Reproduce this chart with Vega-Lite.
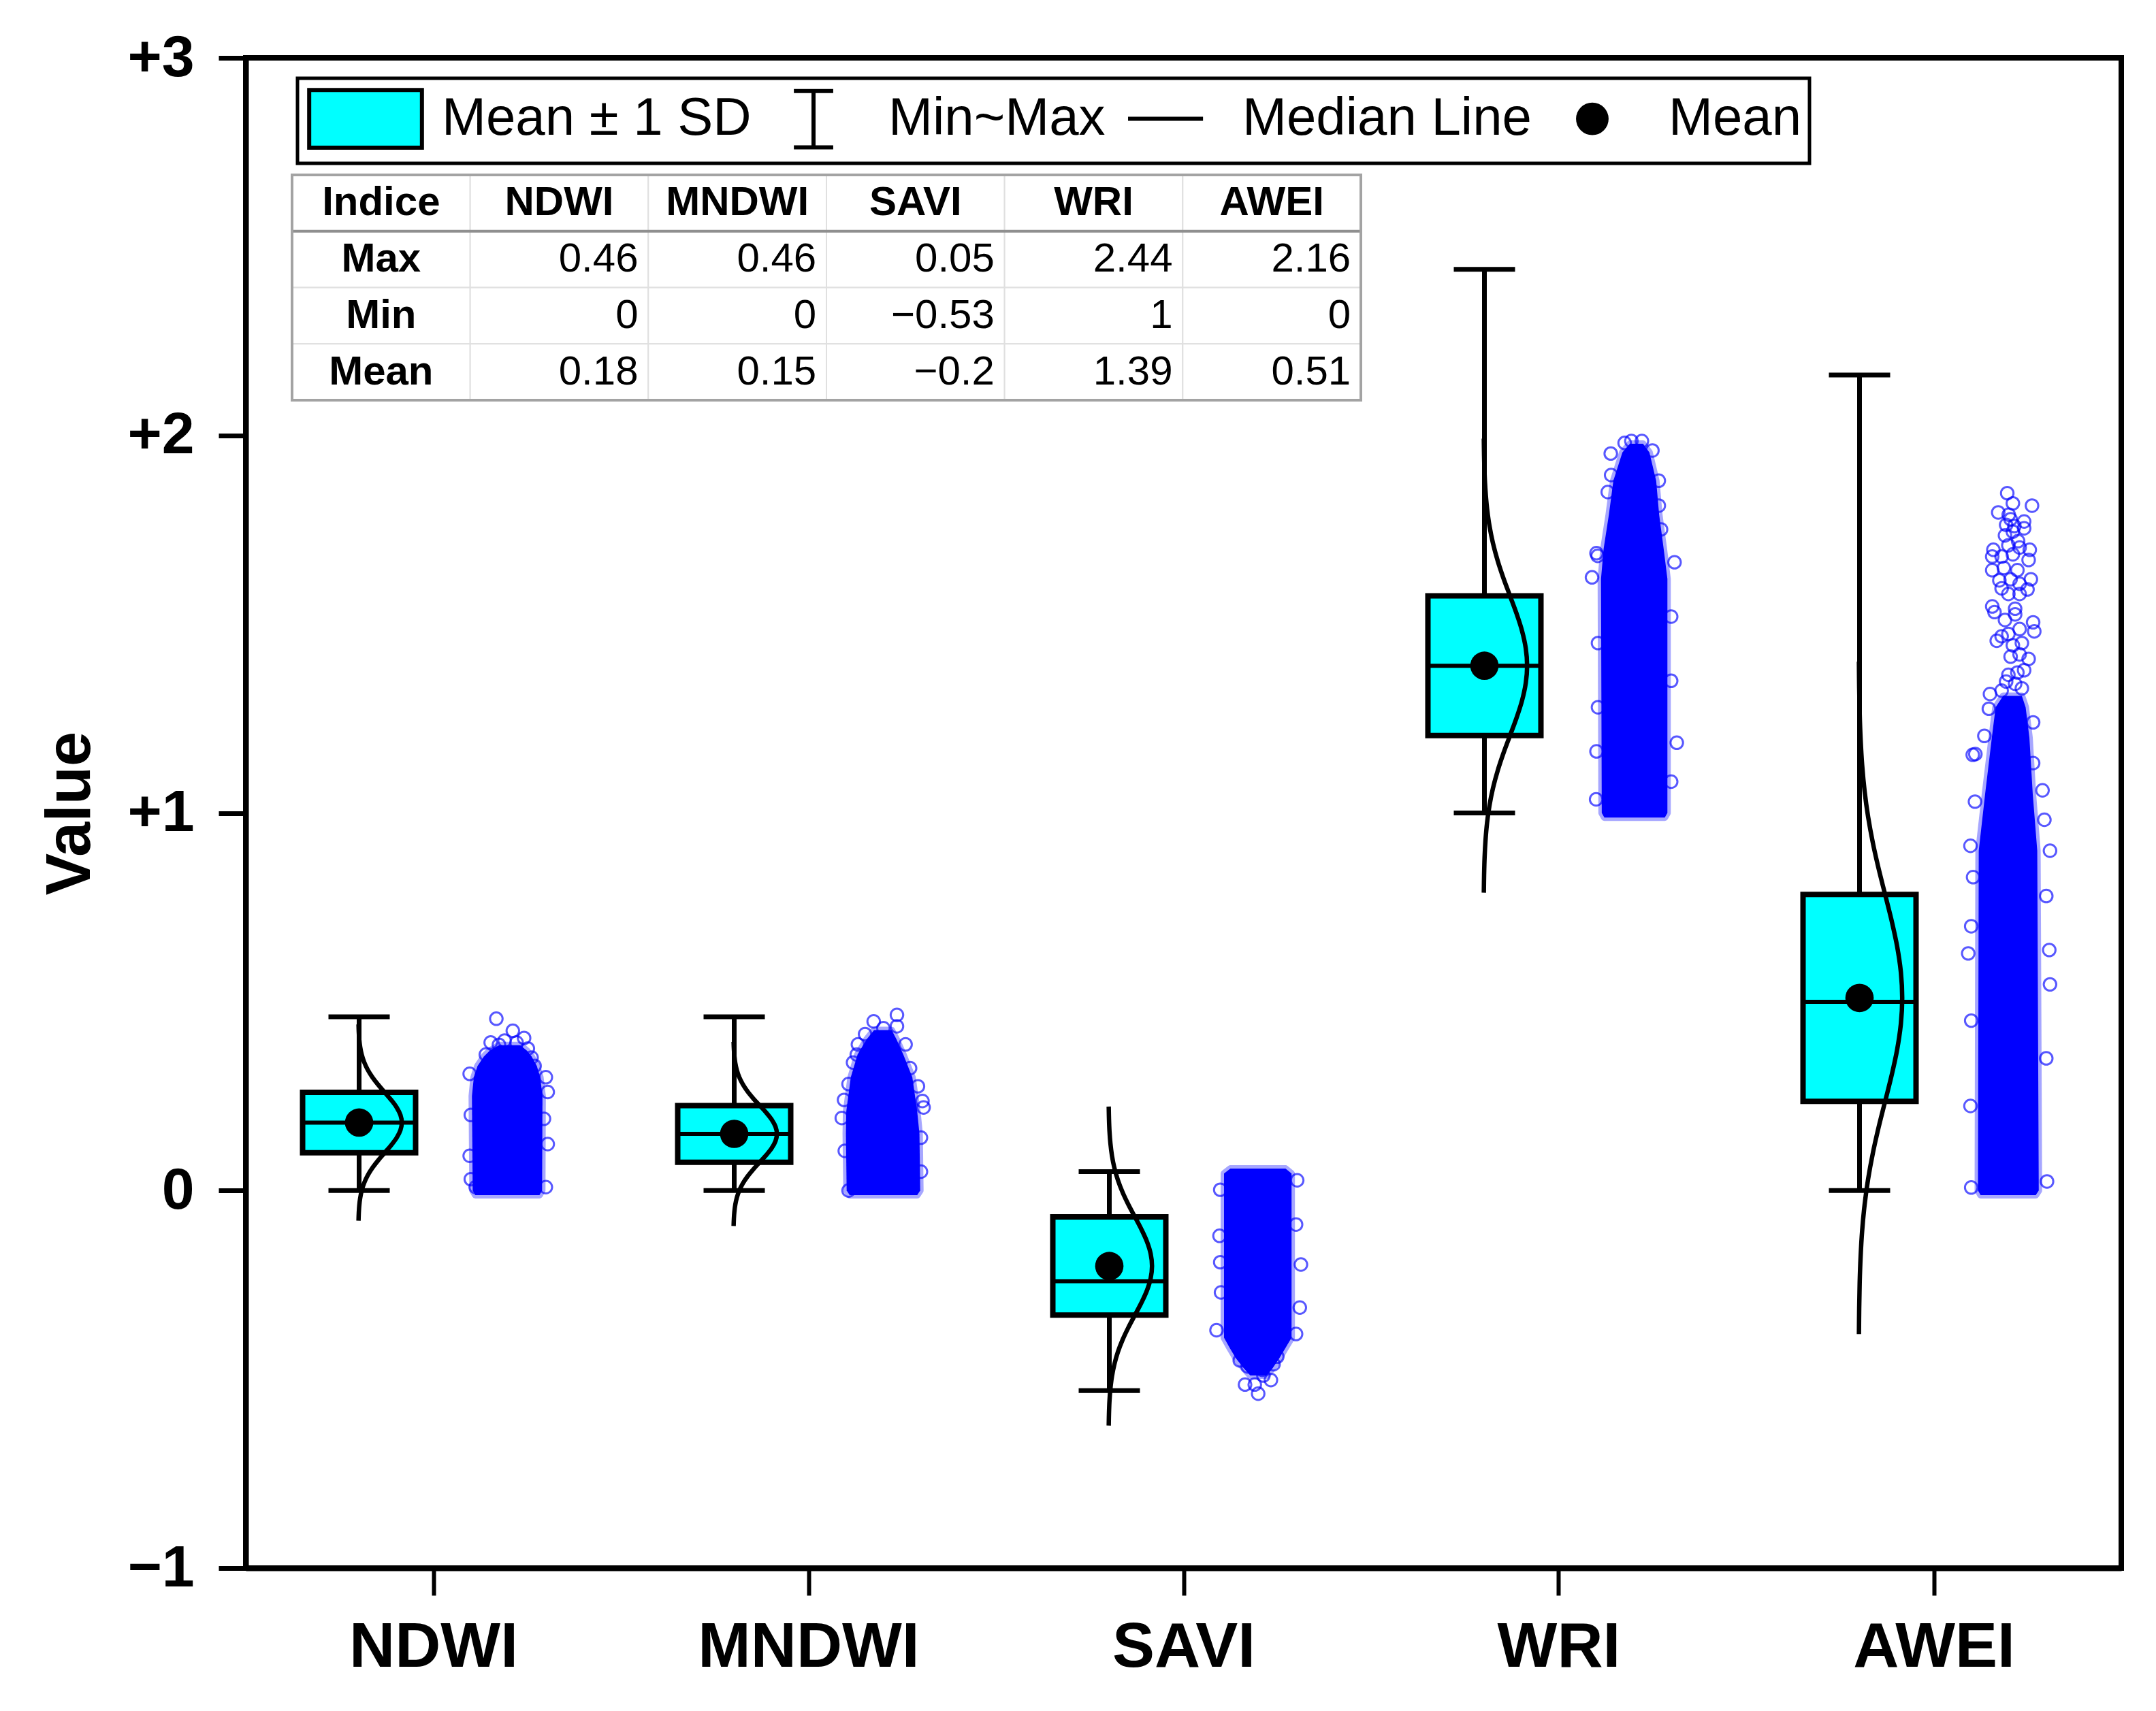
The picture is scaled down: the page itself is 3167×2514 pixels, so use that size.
{
  "$schema": "https://vega.github.io/schema/vega-lite/v6.json",
  "width": 2755,
  "height": 2219,
  "autosize": {"type": "none"},
  "padding": {"left": 361, "top": 85, "right": 51, "bottom": 210},
  "background": "white",
  "config": {
    "view": {"stroke": "black", "strokeWidth": 8},
    "font": "Liberation Sans",
    "legend": {"strokeWidth": 5}
  },
  "datasets": {
    "stats": [
      {"k": "NDWI", "pos": 1, "mean": 0.18, "lo": 0.10, "hi": 0.26, "median": 0.18, "min": 0, "max": 0.46},
      {"k": "MNDWI", "pos": 2, "mean": 0.15, "lo": 0.075, "hi": 0.225, "median": 0.15, "min": 0, "max": 0.46},
      {"k": "SAVI", "pos": 3, "mean": -0.2, "lo": -0.33, "hi": -0.07, "median": -0.24, "min": -0.53, "max": 0.05},
      {"k": "WRI", "pos": 4, "mean": 1.39, "lo": 1.205, "hi": 1.575, "median": 1.39, "min": 1, "max": 2.44},
      {"k": "AWEI", "pos": 5, "mean": 0.51, "lo": 0.236, "hi": 0.784, "median": 0.50, "min": 0, "max": 2.16}
    ],
    "curve": [
      {"k": "NDWI", "x": 0.8006, "y": -0.08}, {"k": "NDWI", "x": 0.8013, "y": -0.06}, {"k": "NDWI", "x": 0.8026, "y": -0.04},
      {"k": "NDWI", "x": 0.8051, "y": -0.02}, {"k": "NDWI", "x": 0.8092, "y": 0.0}, {"k": "NDWI", "x": 0.8157, "y": 0.02},
      {"k": "NDWI", "x": 0.8251, "y": 0.04}, {"k": "NDWI", "x": 0.8377, "y": 0.06}, {"k": "NDWI", "x": 0.8531, "y": 0.08},
      {"k": "NDWI", "x": 0.8704, "y": 0.10}, {"k": "NDWI", "x": 0.8876, "y": 0.12}, {"k": "NDWI", "x": 0.9024, "y": 0.14},
      {"k": "NDWI", "x": 0.9124, "y": 0.16}, {"k": "NDWI", "x": 0.916, "y": 0.18}, {"k": "NDWI", "x": 0.9124, "y": 0.20},
      {"k": "NDWI", "x": 0.9024, "y": 0.22}, {"k": "NDWI", "x": 0.8876, "y": 0.24}, {"k": "NDWI", "x": 0.8704, "y": 0.26},
      {"k": "NDWI", "x": 0.8531, "y": 0.28}, {"k": "NDWI", "x": 0.8377, "y": 0.30}, {"k": "NDWI", "x": 0.8251, "y": 0.32},
      {"k": "NDWI", "x": 0.8157, "y": 0.34}, {"k": "NDWI", "x": 0.8092, "y": 0.36}, {"k": "NDWI", "x": 0.8051, "y": 0.38},
      {"k": "NDWI", "x": 0.8026, "y": 0.40}, {"k": "NDWI", "x": 0.8013, "y": 0.42}, {"k": "NDWI", "x": 0.8006, "y": 0.44},

      {"k": "MNDWI", "x": 1.8006, "y": -0.0938}, {"k": "MNDWI", "x": 1.8013, "y": -0.075}, {"k": "MNDWI", "x": 1.8026, "y": -0.0563},
      {"k": "MNDWI", "x": 1.8051, "y": -0.0375}, {"k": "MNDWI", "x": 1.8092, "y": -0.0188}, {"k": "MNDWI", "x": 1.8157, "y": 0.0},
      {"k": "MNDWI", "x": 1.8251, "y": 0.0188}, {"k": "MNDWI", "x": 1.8377, "y": 0.0375}, {"k": "MNDWI", "x": 1.8531, "y": 0.0563},
      {"k": "MNDWI", "x": 1.8704, "y": 0.075}, {"k": "MNDWI", "x": 1.8876, "y": 0.0938}, {"k": "MNDWI", "x": 1.9024, "y": 0.1125},
      {"k": "MNDWI", "x": 1.9124, "y": 0.1313}, {"k": "MNDWI", "x": 1.916, "y": 0.15}, {"k": "MNDWI", "x": 1.9124, "y": 0.1688},
      {"k": "MNDWI", "x": 1.9024, "y": 0.1875}, {"k": "MNDWI", "x": 1.8876, "y": 0.2063}, {"k": "MNDWI", "x": 1.8704, "y": 0.225},
      {"k": "MNDWI", "x": 1.8531, "y": 0.2438}, {"k": "MNDWI", "x": 1.8377, "y": 0.2625}, {"k": "MNDWI", "x": 1.8251, "y": 0.2813},
      {"k": "MNDWI", "x": 1.8157, "y": 0.3}, {"k": "MNDWI", "x": 1.8092, "y": 0.3188}, {"k": "MNDWI", "x": 1.8051, "y": 0.3375},
      {"k": "MNDWI", "x": 1.8026, "y": 0.3563}, {"k": "MNDWI", "x": 1.8013, "y": 0.375}, {"k": "MNDWI", "x": 1.8006, "y": 0.3938},

      {"k": "SAVI", "x": 2.8006, "y": -0.6225}, {"k": "SAVI", "x": 2.8013, "y": -0.59}, {"k": "SAVI", "x": 2.8026, "y": -0.5575},
      {"k": "SAVI", "x": 2.8051, "y": -0.525}, {"k": "SAVI", "x": 2.8092, "y": -0.4925}, {"k": "SAVI", "x": 2.8157, "y": -0.46},
      {"k": "SAVI", "x": 2.8251, "y": -0.4275}, {"k": "SAVI", "x": 2.8377, "y": -0.395}, {"k": "SAVI", "x": 2.8531, "y": -0.3625},
      {"k": "SAVI", "x": 2.8704, "y": -0.33}, {"k": "SAVI", "x": 2.8876, "y": -0.2975}, {"k": "SAVI", "x": 2.9024, "y": -0.265},
      {"k": "SAVI", "x": 2.9124, "y": -0.2325}, {"k": "SAVI", "x": 2.916, "y": -0.2}, {"k": "SAVI", "x": 2.9124, "y": -0.1675},
      {"k": "SAVI", "x": 2.9024, "y": -0.135}, {"k": "SAVI", "x": 2.8876, "y": -0.1025}, {"k": "SAVI", "x": 2.8704, "y": -0.07},
      {"k": "SAVI", "x": 2.8531, "y": -0.0375}, {"k": "SAVI", "x": 2.8377, "y": -0.005}, {"k": "SAVI", "x": 2.8251, "y": 0.0275},
      {"k": "SAVI", "x": 2.8157, "y": 0.06}, {"k": "SAVI", "x": 2.8092, "y": 0.0925}, {"k": "SAVI", "x": 2.8051, "y": 0.125},
      {"k": "SAVI", "x": 2.8026, "y": 0.1575}, {"k": "SAVI", "x": 2.8013, "y": 0.19}, {"k": "SAVI", "x": 2.8006, "y": 0.2225},

      {"k": "WRI", "x": 3.8006, "y": 0.7888}, {"k": "WRI", "x": 3.8013, "y": 0.835}, {"k": "WRI", "x": 3.8026, "y": 0.8813},
      {"k": "WRI", "x": 3.8051, "y": 0.9275}, {"k": "WRI", "x": 3.8092, "y": 0.9738}, {"k": "WRI", "x": 3.8157, "y": 1.02},
      {"k": "WRI", "x": 3.8251, "y": 1.0663}, {"k": "WRI", "x": 3.8377, "y": 1.1125}, {"k": "WRI", "x": 3.8531, "y": 1.1588},
      {"k": "WRI", "x": 3.8704, "y": 1.205}, {"k": "WRI", "x": 3.8876, "y": 1.2513}, {"k": "WRI", "x": 3.9024, "y": 1.2975},
      {"k": "WRI", "x": 3.9124, "y": 1.3438}, {"k": "WRI", "x": 3.916, "y": 1.39}, {"k": "WRI", "x": 3.9124, "y": 1.4363},
      {"k": "WRI", "x": 3.9024, "y": 1.4825}, {"k": "WRI", "x": 3.8876, "y": 1.5288}, {"k": "WRI", "x": 3.8704, "y": 1.575},
      {"k": "WRI", "x": 3.8531, "y": 1.6213}, {"k": "WRI", "x": 3.8377, "y": 1.6675}, {"k": "WRI", "x": 3.8251, "y": 1.7138},
      {"k": "WRI", "x": 3.8157, "y": 1.76}, {"k": "WRI", "x": 3.8092, "y": 1.8063}, {"k": "WRI", "x": 3.8051, "y": 1.8525},
      {"k": "WRI", "x": 3.8026, "y": 1.8988}, {"k": "WRI", "x": 3.8013, "y": 1.945}, {"k": "WRI", "x": 3.8006, "y": 1.9913},

      {"k": "AWEI", "x": 4.8006, "y": -0.3805}, {"k": "AWEI", "x": 4.8013, "y": -0.312}, {"k": "AWEI", "x": 4.8026, "y": -0.2435},
      {"k": "AWEI", "x": 4.8051, "y": -0.175}, {"k": "AWEI", "x": 4.8092, "y": -0.1065}, {"k": "AWEI", "x": 4.8157, "y": -0.038},
      {"k": "AWEI", "x": 4.8251, "y": 0.0305}, {"k": "AWEI", "x": 4.8377, "y": 0.099}, {"k": "AWEI", "x": 4.8531, "y": 0.1675},
      {"k": "AWEI", "x": 4.8704, "y": 0.236}, {"k": "AWEI", "x": 4.8876, "y": 0.3045}, {"k": "AWEI", "x": 4.9024, "y": 0.373},
      {"k": "AWEI", "x": 4.9124, "y": 0.4415}, {"k": "AWEI", "x": 4.916, "y": 0.51}, {"k": "AWEI", "x": 4.9124, "y": 0.5785},
      {"k": "AWEI", "x": 4.9024, "y": 0.647}, {"k": "AWEI", "x": 4.8876, "y": 0.7155}, {"k": "AWEI", "x": 4.8704, "y": 0.784},
      {"k": "AWEI", "x": 4.8531, "y": 0.8525}, {"k": "AWEI", "x": 4.8377, "y": 0.921}, {"k": "AWEI", "x": 4.8251, "y": 0.9895},
      {"k": "AWEI", "x": 4.8157, "y": 1.058}, {"k": "AWEI", "x": 4.8092, "y": 1.1265}, {"k": "AWEI", "x": 4.8051, "y": 1.195},
      {"k": "AWEI", "x": 4.8026, "y": 1.2635}, {"k": "AWEI", "x": 4.8013, "y": 1.332}, {"k": "AWEI", "x": 4.8006, "y": 1.4005}
    ],
    "cloud": [
      {"k": "NDWI", "y": -0.012, "x0": 1.112, "x1": 1.283}, {"k": "NDWI", "y": 0.0, "x0": 1.105, "x1": 1.29},
      {"k": "NDWI", "y": 0.25, "x0": 1.103, "x1": 1.291}, {"k": "NDWI", "y": 0.30, "x0": 1.108, "x1": 1.285},
      {"k": "NDWI", "y": 0.33, "x0": 1.118, "x1": 1.276}, {"k": "NDWI", "y": 0.355, "x0": 1.135, "x1": 1.262},
      {"k": "NDWI", "y": 0.37, "x0": 1.15, "x1": 1.25}, {"k": "NDWI", "y": 0.385, "x0": 1.175, "x1": 1.232},

      {"k": "MNDWI", "y": -0.012, "x0": 2.11, "x1": 2.29}, {"k": "MNDWI", "y": 0.0, "x0": 2.102, "x1": 2.298},
      {"k": "MNDWI", "y": 0.15, "x0": 2.10, "x1": 2.296}, {"k": "MNDWI", "y": 0.21, "x0": 2.101, "x1": 2.29},
      {"k": "MNDWI", "y": 0.30, "x0": 2.113, "x1": 2.277}, {"k": "MNDWI", "y": 0.36, "x0": 2.131, "x1": 2.253},
      {"k": "MNDWI", "y": 0.40, "x0": 2.155, "x1": 2.235}, {"k": "MNDWI", "y": 0.425, "x0": 2.175, "x1": 2.222},

      {"k": "SAVI", "y": -0.49, "x0": 3.178, "x1": 3.222}, {"k": "SAVI", "y": -0.47, "x0": 3.16, "x1": 3.238},
      {"k": "SAVI", "y": -0.445, "x0": 3.14, "x1": 3.255}, {"k": "SAVI", "y": -0.42, "x0": 3.125, "x1": 3.27},
      {"k": "SAVI", "y": -0.39, "x0": 3.108, "x1": 3.288}, {"k": "SAVI", "y": 0.045, "x0": 3.108, "x1": 3.288},
      {"k": "SAVI", "y": 0.058, "x0": 3.125, "x1": 3.272},

      {"k": "WRI", "y": 0.988, "x0": 4.122, "x1": 4.283}, {"k": "WRI", "y": 1.0, "x0": 4.115, "x1": 4.29},
      {"k": "WRI", "y": 1.62, "x0": 4.113, "x1": 4.29}, {"k": "WRI", "y": 1.70, "x0": 4.12, "x1": 4.28},
      {"k": "WRI", "y": 1.79, "x0": 4.134, "x1": 4.268}, {"k": "WRI", "y": 1.88, "x0": 4.146, "x1": 4.26},
      {"k": "WRI", "y": 1.955, "x0": 4.17, "x1": 4.242}, {"k": "WRI", "y": 1.978, "x0": 4.19, "x1": 4.225},

      {"k": "AWEI", "y": -0.012, "x0": 5.125, "x1": 5.272}, {"k": "AWEI", "y": 0.0, "x0": 5.118, "x1": 5.28},
      {"k": "AWEI", "y": 0.9, "x0": 5.12, "x1": 5.276}, {"k": "AWEI", "y": 1.05, "x0": 5.137, "x1": 5.264},
      {"k": "AWEI", "y": 1.2, "x0": 5.155, "x1": 5.255}, {"k": "AWEI", "y": 1.28, "x0": 5.165, "x1": 5.245},
      {"k": "AWEI", "y": 1.31, "x0": 5.185, "x1": 5.235}
    ],
    "pts": [
      {"k": "NDWI", "x": 1.168, "y": 0.455}, {"k": "NDWI", "x": 1.212, "y": 0.423}, {"k": "NDWI", "x": 1.242, "y": 0.404},
      {"k": "NDWI", "x": 1.153, "y": 0.392}, {"k": "NDWI", "x": 1.19, "y": 0.397}, {"k": "NDWI", "x": 1.222, "y": 0.392},
      {"k": "NDWI", "x": 1.175, "y": 0.386}, {"k": "NDWI", "x": 1.252, "y": 0.376}, {"k": "NDWI", "x": 1.262, "y": 0.352},
      {"k": "NDWI", "x": 1.097, "y": 0.309}, {"k": "NDWI", "x": 1.30, "y": 0.30}, {"k": "NDWI", "x": 1.305, "y": 0.261},
      {"k": "NDWI", "x": 1.305, "y": 0.123}, {"k": "NDWI", "x": 1.097, "y": 0.092}, {"k": "NDWI", "x": 1.113, "y": 0.009},
      {"k": "NDWI", "x": 1.30, "y": 0.009}, {"k": "NDWI", "x": 1.27, "y": 0.33}, {"k": "NDWI", "x": 1.14, "y": 0.36},
      {"k": "NDWI", "x": 1.10, "y": 0.2}, {"k": "NDWI", "x": 1.295, "y": 0.19}, {"k": "NDWI", "x": 1.10, "y": 0.03},

      {"k": "MNDWI", "x": 2.174, "y": 0.448}, {"k": "MNDWI", "x": 2.236, "y": 0.465}, {"k": "MNDWI", "x": 2.236, "y": 0.435},
      {"k": "MNDWI", "x": 2.151, "y": 0.414}, {"k": "MNDWI", "x": 2.259, "y": 0.387}, {"k": "MNDWI", "x": 2.132, "y": 0.387},
      {"k": "MNDWI", "x": 2.129, "y": 0.36}, {"k": "MNDWI", "x": 2.119, "y": 0.339}, {"k": "MNDWI", "x": 2.107, "y": 0.282},
      {"k": "MNDWI", "x": 2.271, "y": 0.324}, {"k": "MNDWI", "x": 2.292, "y": 0.276}, {"k": "MNDWI", "x": 2.304, "y": 0.237},
      {"k": "MNDWI", "x": 2.307, "y": 0.22}, {"k": "MNDWI", "x": 2.089, "y": 0.192}, {"k": "MNDWI", "x": 2.097, "y": 0.105},
      {"k": "MNDWI", "x": 2.107, "y": 0.0}, {"k": "MNDWI", "x": 2.30, "y": 0.05}, {"k": "MNDWI", "x": 2.2, "y": 0.43},
      {"k": "MNDWI", "x": 2.30, "y": 0.14}, {"k": "MNDWI", "x": 2.095, "y": 0.24},

      {"k": "SAVI", "x": 3.171, "y": -0.466}, {"k": "SAVI", "x": 3.24, "y": -0.46}, {"k": "SAVI", "x": 3.213, "y": -0.49},
      {"k": "SAVI", "x": 3.164, "y": -0.514}, {"k": "SAVI", "x": 3.233, "y": -0.502}, {"k": "SAVI", "x": 3.199, "y": -0.538},
      {"k": "SAVI", "x": 3.19, "y": -0.514}, {"k": "SAVI", "x": 3.21, "y": -0.475}, {"k": "SAVI", "x": 3.098, "y": 0.002},
      {"k": "SAVI", "x": 3.303, "y": 0.027}, {"k": "SAVI", "x": 3.098, "y": -0.19}, {"k": "SAVI", "x": 3.313, "y": -0.196},
      {"k": "SAVI", "x": 3.088, "y": -0.37}, {"k": "SAVI", "x": 3.31, "y": -0.31}, {"k": "SAVI", "x": 3.096, "y": -0.12},
      {"k": "SAVI", "x": 3.15, "y": -0.45}, {"k": "SAVI", "x": 3.25, "y": -0.44}, {"k": "SAVI", "x": 3.30, "y": -0.09},
      {"k": "SAVI", "x": 3.10, "y": -0.27}, {"k": "SAVI", "x": 3.30, "y": -0.38},

      {"k": "WRI", "x": 4.194, "y": 1.985}, {"k": "WRI", "x": 4.222, "y": 1.985}, {"k": "WRI", "x": 4.139, "y": 1.952},
      {"k": "WRI", "x": 4.14, "y": 1.895}, {"k": "WRI", "x": 4.131, "y": 1.85}, {"k": "WRI", "x": 4.267, "y": 1.88},
      {"k": "WRI", "x": 4.267, "y": 1.814}, {"k": "WRI", "x": 4.101, "y": 1.688}, {"k": "WRI", "x": 4.273, "y": 1.751},
      {"k": "WRI", "x": 4.104, "y": 1.681}, {"k": "WRI", "x": 4.089, "y": 1.624}, {"k": "WRI", "x": 4.309, "y": 1.664},
      {"k": "WRI", "x": 4.315, "y": 1.186}, {"k": "WRI", "x": 4.101, "y": 1.163}, {"k": "WRI", "x": 4.10, "y": 1.036},
      {"k": "WRI", "x": 4.30, "y": 1.083}, {"k": "WRI", "x": 4.176, "y": 1.98}, {"k": "WRI", "x": 4.25, "y": 1.96},
      {"k": "WRI", "x": 4.105, "y": 1.45}, {"k": "WRI", "x": 4.30, "y": 1.35}, {"k": "WRI", "x": 4.105, "y": 1.28},
      {"k": "WRI", "x": 4.30, "y": 1.52},

      {"k": "AWEI", "x": 5.196, "y": 1.847}, {"k": "AWEI", "x": 5.262, "y": 1.814}, {"k": "AWEI", "x": 5.211, "y": 1.82},
      {"k": "AWEI", "x": 5.172, "y": 1.796}, {"k": "AWEI", "x": 5.205, "y": 1.778}, {"k": "AWEI", "x": 5.241, "y": 1.772},
      {"k": "AWEI", "x": 5.193, "y": 1.763}, {"k": "AWEI", "x": 5.241, "y": 1.754}, {"k": "AWEI", "x": 5.211, "y": 1.745},
      {"k": "AWEI", "x": 5.2, "y": 1.79}, {"k": "AWEI", "x": 5.215, "y": 1.76}, {"k": "AWEI", "x": 5.19, "y": 1.735},
      {"k": "AWEI", "x": 5.225, "y": 1.72}, {"k": "AWEI", "x": 5.159, "y": 1.697}, {"k": "AWEI", "x": 5.199, "y": 1.709},
      {"k": "AWEI", "x": 5.229, "y": 1.703}, {"k": "AWEI", "x": 5.256, "y": 1.697}, {"k": "AWEI", "x": 5.156, "y": 1.679},
      {"k": "AWEI", "x": 5.181, "y": 1.679}, {"k": "AWEI", "x": 5.211, "y": 1.685}, {"k": "AWEI", "x": 5.253, "y": 1.67},
      {"k": "AWEI", "x": 5.156, "y": 1.643}, {"k": "AWEI", "x": 5.187, "y": 1.649}, {"k": "AWEI", "x": 5.223, "y": 1.643},
      {"k": "AWEI", "x": 5.175, "y": 1.616}, {"k": "AWEI", "x": 5.205, "y": 1.619}, {"k": "AWEI", "x": 5.259, "y": 1.619},
      {"k": "AWEI", "x": 5.229, "y": 1.607}, {"k": "AWEI", "x": 5.181, "y": 1.595}, {"k": "AWEI", "x": 5.199, "y": 1.58},
      {"k": "AWEI", "x": 5.229, "y": 1.58}, {"k": "AWEI", "x": 5.25, "y": 1.592}, {"k": "AWEI", "x": 5.156, "y": 1.547},
      {"k": "AWEI", "x": 5.162, "y": 1.532}, {"k": "AWEI", "x": 5.217, "y": 1.541}, {"k": "AWEI", "x": 5.19, "y": 1.511},
      {"k": "AWEI", "x": 5.217, "y": 1.526}, {"k": "AWEI", "x": 5.265, "y": 1.505}, {"k": "AWEI", "x": 5.268, "y": 1.481},
      {"k": "AWEI", "x": 5.181, "y": 1.468}, {"k": "AWEI", "x": 5.168, "y": 1.456}, {"k": "AWEI", "x": 5.199, "y": 1.474},
      {"k": "AWEI", "x": 5.229, "y": 1.487}, {"k": "AWEI", "x": 5.211, "y": 1.444}, {"k": "AWEI", "x": 5.235, "y": 1.45},
      {"k": "AWEI", "x": 5.205, "y": 1.414}, {"k": "AWEI", "x": 5.253, "y": 1.408}, {"k": "AWEI", "x": 5.229, "y": 1.42},
      {"k": "AWEI", "x": 5.241, "y": 1.378}, {"k": "AWEI", "x": 5.199, "y": 1.366}, {"k": "AWEI", "x": 5.223, "y": 1.372},
      {"k": "AWEI", "x": 5.193, "y": 1.348}, {"k": "AWEI", "x": 5.217, "y": 1.342}, {"k": "AWEI", "x": 5.15, "y": 1.315},
      {"k": "AWEI", "x": 5.181, "y": 1.324}, {"k": "AWEI", "x": 5.235, "y": 1.33}, {"k": "AWEI", "x": 5.147, "y": 1.276},
      {"k": "AWEI", "x": 5.135, "y": 1.204}, {"k": "AWEI", "x": 5.111, "y": 1.156}, {"k": "AWEI", "x": 5.265, "y": 1.24},
      {"k": "AWEI", "x": 5.265, "y": 1.132}, {"k": "AWEI", "x": 5.104, "y": 1.154}, {"k": "AWEI", "x": 5.098, "y": 0.913},
      {"k": "AWEI", "x": 5.092, "y": 0.628}, {"k": "AWEI", "x": 5.308, "y": 0.637}, {"k": "AWEI", "x": 5.31, "y": 0.546},
      {"k": "AWEI", "x": 5.098, "y": 0.224}, {"k": "AWEI", "x": 5.302, "y": 0.024}, {"k": "AWEI", "x": 5.10, "y": 0.008},
      {"k": "AWEI", "x": 5.295, "y": 0.982}, {"k": "AWEI", "x": 5.31, "y": 0.9}, {"k": "AWEI", "x": 5.105, "y": 0.83},
      {"k": "AWEI", "x": 5.10, "y": 0.45}, {"k": "AWEI", "x": 5.30, "y": 0.35}, {"k": "AWEI", "x": 5.10, "y": 0.7},
      {"k": "AWEI", "x": 5.30, "y": 0.78}, {"k": "AWEI", "x": 5.11, "y": 1.03}, {"k": "AWEI", "x": 5.29, "y": 1.06}
    ],
    "legendItems": [
      {"item": "Mean ± 1 SD"}, {"item": "Min~Max"}, {"item": "Median Line"}, {"item": "Mean"}
    ],
    "table": [
      {"row": "Indice", "col": "Indice", "t": "Indice"}, {"row": "Indice", "col": "NDWI", "t": "NDWI"},
      {"row": "Indice", "col": "MNDWI", "t": "MNDWI"}, {"row": "Indice", "col": "SAVI", "t": "SAVI"},
      {"row": "Indice", "col": "WRI", "t": "WRI"}, {"row": "Indice", "col": "AWEI", "t": "AWEI"},
      {"row": "Max", "col": "Indice", "t": "Max"}, {"row": "Max", "col": "NDWI", "t": "0.46"},
      {"row": "Max", "col": "MNDWI", "t": "0.46"}, {"row": "Max", "col": "SAVI", "t": "0.05"},
      {"row": "Max", "col": "WRI", "t": "2.44"}, {"row": "Max", "col": "AWEI", "t": "2.16"},
      {"row": "Min", "col": "Indice", "t": "Min"}, {"row": "Min", "col": "NDWI", "t": "0"},
      {"row": "Min", "col": "MNDWI", "t": "0"}, {"row": "Min", "col": "SAVI", "t": "−0.53"},
      {"row": "Min", "col": "WRI", "t": "1"}, {"row": "Min", "col": "AWEI", "t": "0"},
      {"row": "Mean", "col": "Indice", "t": "Mean"}, {"row": "Mean", "col": "NDWI", "t": "0.18"},
      {"row": "Mean", "col": "MNDWI", "t": "0.15"}, {"row": "Mean", "col": "SAVI", "t": "−0.2"},
      {"row": "Mean", "col": "WRI", "t": "1.39"}, {"row": "Mean", "col": "AWEI", "t": "0.51"}
    ],
    "tableFrame": [
      {"c0": "Indice", "c1": "AWEI", "r0": "Indice", "r1": "Mean"}
    ]
  },
  "layer": [
    {
      "data": {"name": "stats"},
      "mark": {"type": "rule", "color": "black", "strokeWidth": 7, "xOffset": -109},
      "encoding": {
        "x": {
          "field": "pos", "type": "quantitative",
          "scale": {"domain": [0.5, 5.5], "nice": false, "zero": false},
          "axis": {
            "title": null,
            "values": [1, 2, 3, 4, 5],
            "labelExpr": "['', 'NDWI', 'MNDWI', 'SAVI', 'WRI', 'AWEI'][datum.value]",
            "labelFont": "Liberation Sans", "labelFontSize": 93, "labelFontWeight": "bold", "labelColor": "black",
            "labelPadding": 31, "labelFlush": false, "labelOverlap": false, "labelLimit": 0,
            "tickSize": 40, "tickWidth": 6, "tickColor": "black",
            "domainWidth": 8, "domainColor": "black", "grid": false, "orient": "bottom"
          }
        },
        "y": {
          "field": "min", "type": "quantitative",
          "scale": {"domain": [-1, 3], "nice": false, "zero": false},
          "axis": {
            "title": "Value",
            "titleFont": "Liberation Sans", "titleFontSize": 92, "titleFontWeight": "bold", "titleColor": "black",
            "titlePadding": 36,
            "values": [-1, -0.5, 0, 0.5, 1, 1.5, 2, 2.5, 3],
            "format": "d",
            "labelExpr": "datum.value % 1 != 0 ? '' : (datum.value > 0 ? '+' + datum.label : datum.label)",
            "labelFont": "Liberation Sans", "labelFontSize": 86, "labelFontWeight": "bold", "labelColor": "black",
            "labelPadding": 36, "labelOverlap": false, "labelFlush": false, "labelLimit": 0,
            "tickSize": {"condition": {"test": "datum.value % 1 != 0", "value": 20}, "value": 40},
            "tickWidth": 7, "tickColor": "black",
            "domainWidth": 8, "domainColor": "black", "grid": false, "orient": "left"
          }
        },
        "y2": {"field": "max"}
      }
    },
    {
      "data": {"name": "stats"},
      "mark": {"type": "rule", "color": "black", "strokeWidth": 7, "xOffset": -154, "x2Offset": -64},
      "encoding": {
        "x": {"field": "pos", "type": "quantitative", "scale": {"domain": [0.5, 5.5], "nice": false, "zero": false}, "axis": null},
        "x2": {"field": "pos"},
        "y": {"field": "max", "type": "quantitative", "scale": {"domain": [-1, 3], "nice": false, "zero": false}, "axis": null}
      }
    },
    {
      "data": {"name": "stats"},
      "mark": {"type": "rule", "color": "black", "strokeWidth": 7, "xOffset": -154, "x2Offset": -64},
      "encoding": {
        "x": {"field": "pos", "type": "quantitative", "scale": {"domain": [0.5, 5.5], "nice": false, "zero": false}, "axis": null},
        "x2": {"field": "pos"},
        "y": {"field": "min", "type": "quantitative", "scale": {"domain": [-1, 3], "nice": false, "zero": false}, "axis": null}
      }
    },
    {
      "data": {"name": "stats"},
      "mark": {"type": "rect", "fill": "#00FFFF", "stroke": "black", "strokeWidth": 8, "xOffset": -192, "x2Offset": -26},
      "encoding": {
        "x": {"field": "pos", "type": "quantitative", "scale": {"domain": [0.5, 5.5], "nice": false, "zero": false}, "axis": null},
        "x2": {"field": "pos"},
        "y": {"field": "lo", "type": "quantitative", "scale": {"domain": [-1, 3], "nice": false, "zero": false}, "axis": null},
        "y2": {"field": "hi"}
      }
    },
    {
      "data": {"name": "stats"},
      "mark": {"type": "rule", "color": "black", "strokeWidth": 6, "xOffset": -192, "x2Offset": -26},
      "encoding": {
        "x": {"field": "pos", "type": "quantitative", "scale": {"domain": [0.5, 5.5], "nice": false, "zero": false}, "axis": null},
        "x2": {"field": "pos"},
        "y": {"field": "median", "type": "quantitative", "scale": {"domain": [-1, 3], "nice": false, "zero": false}, "axis": null}
      }
    },
    {
      "data": {"name": "curve"},
      "mark": {"type": "line", "color": "black", "strokeWidth": 6.5, "interpolate": "catmull-rom"},
      "encoding": {
        "x": {"field": "x", "type": "quantitative", "scale": {"domain": [0.5, 5.5], "nice": false, "zero": false}, "axis": null},
        "y": {"field": "y", "type": "quantitative", "scale": {"domain": [-1, 3], "nice": false, "zero": false}, "axis": null},
        "detail": {"field": "k"},
        "order": {"field": "y", "type": "quantitative"}
      }
    },
    {
      "data": {"name": "stats"},
      "mark": {"type": "point", "filled": true, "color": "black", "size": 1735, "opacity": 1, "xOffset": -109},
      "encoding": {
        "x": {"field": "pos", "type": "quantitative", "scale": {"domain": [0.5, 5.5], "nice": false, "zero": false}, "axis": null},
        "y": {"field": "mean", "type": "quantitative", "scale": {"domain": [-1, 3], "nice": false, "zero": false}, "axis": null}
      }
    },
    {
      "data": {"name": "cloud"},
      "mark": {"type": "area", "orient": "horizontal", "fill": "#0000FF", "fillOpacity": 1,
               "stroke": "#0000FF", "strokeWidth": 10, "strokeOpacity": 0.35, "strokeJoin": "round"},
      "encoding": {
        "y": {"field": "y", "type": "quantitative", "scale": {"domain": [-1, 3], "nice": false, "zero": false}, "axis": null},
        "x": {"field": "x0", "type": "quantitative", "scale": {"domain": [0.5, 5.5], "nice": false, "zero": false}, "axis": null},
        "x2": {"field": "x1"},
        "detail": {"field": "k"}
      }
    },
    {
      "data": {"name": "pts"},
      "mark": {"type": "point", "shape": "circle", "filled": false, "stroke": "#0000FF", "strokeWidth": 3,
               "opacity": 0.65, "size": 340},
      "encoding": {
        "x": {"field": "x", "type": "quantitative", "scale": {"domain": [0.5, 5.5], "nice": false, "zero": false}, "axis": null},
        "y": {"field": "y", "type": "quantitative", "scale": {"domain": [-1, 3], "nice": false, "zero": false}, "axis": null}
      }
    },
    {
      "data": {"name": "legendItems"},
      "mark": {"type": "point", "filled": true, "strokeWidth": 6},
      "encoding": {
        "opacity": {"value": 0},
        "shape": {
          "field": "item", "type": "nominal",
          "scale": {
            "domain": ["Mean ± 1 SD", "Min~Max", "Median Line", "Mean"],
            "range": [
              "M-0.93,-0.93H2.71V0.93H-0.93Z",
              "M0.3,-0.91H1.57M0.934,-0.91V0.91M0.3,0.91H1.57",
              "M0,-0.93M0,0.93M-0.34,0H2.08",
              "M0.9,-0.93M0.9,0.93M0.43,0A0.46,0.46 0 1,1 1.35,0A0.46,0.46 0 1,1 0.43,0Z"
            ]
          },
          "legend": {
            "title": null,
            "orient": "none", "legendX": 76, "legendY": 30,
            "direction": "horizontal",
            "symbolSize": 8281,
            "symbolOpacity": 1,
            "symbolStrokeWidth": 6,
            "labelFont": "Liberation Sans", "labelFontSize": 78, "labelColor": "black", "labelLimit": 0,
            "labelOffset": 104,
            "columnPadding": 0,
            "padding": 11,
            "strokeColor": "black", "fillColor": "white"
          }
        },
        "fill": {
          "field": "item", "type": "nominal",
          "scale": {
            "domain": ["Mean ± 1 SD", "Min~Max", "Median Line", "Mean"],
            "range": ["#00FFFF", "#000000", "#000000", "#000000"]
          }
        },
        "stroke": {
          "field": "item", "type": "nominal",
          "scale": {
            "domain": ["Mean ± 1 SD", "Min~Max", "Median Line", "Mean"],
            "range": ["#000000", "#000000", "#000000", "#000000"]
          }
        }
      }
    },
    {
      "data": {"name": "table"},
      "mark": {"type": "rect", "fill": "white", "stroke": "#e0e0e0", "strokeWidth": 2},
      "encoding": {
        "x": {
          "field": "col", "type": "nominal",
          "scale": {"domain": ["Indice", "NDWI", "MNDWI", "SAVI", "WRI", "AWEI"], "range": [68, 1638], "paddingInner": 0, "paddingOuter": 0},
          "axis": null
        },
        "y": {
          "field": "row", "type": "nominal",
          "scale": {"domain": ["Indice", "Max", "Min", "Mean"], "range": [172, 503], "paddingInner": 0, "paddingOuter": 0},
          "axis": null
        }
      }
    },
    {
      "data": {"name": "tableFrame"},
      "mark": {"type": "rule", "color": "#8f8f8f", "strokeWidth": 4},
      "encoding": {
        "x": {"field": "c0", "type": "nominal", "bandPosition": 0,
              "scale": {"domain": ["Indice", "NDWI", "MNDWI", "SAVI", "WRI", "AWEI"], "range": [68, 1638], "paddingInner": 0, "paddingOuter": 0},
              "axis": null},
        "x2": {"field": "c1", "bandPosition": 1},
        "y": {"field": "r0", "type": "nominal", "bandPosition": 1,
              "scale": {"domain": ["Indice", "Max", "Min", "Mean"], "range": [172, 503], "paddingInner": 0, "paddingOuter": 0},
              "axis": null}
      }
    },
    {
      "data": {"name": "tableFrame"},
      "mark": {"type": "rect", "fill": null, "fillOpacity": 0, "stroke": "#a3a3a3", "strokeWidth": 4},
      "encoding": {
        "x": {"field": "c0", "type": "nominal", "bandPosition": 0,
              "scale": {"domain": ["Indice", "NDWI", "MNDWI", "SAVI", "WRI", "AWEI"], "range": [68, 1638], "paddingInner": 0, "paddingOuter": 0},
              "axis": null},
        "x2": {"field": "c1", "bandPosition": 1},
        "y": {"field": "r0", "type": "nominal", "bandPosition": 0,
              "scale": {"domain": ["Indice", "Max", "Min", "Mean"], "range": [172, 503], "paddingInner": 0, "paddingOuter": 0},
              "axis": null},
        "y2": {"field": "r1", "bandPosition": 1}
      }
    },
    {
      "data": {"name": "table"},
      "transform": [{"filter": "datum.row == 'Indice' || datum.col == 'Indice'"}],
      "mark": {"type": "text", "font": "Liberation Sans", "fontSize": 60, "fontWeight": "bold", "color": "black",
               "align": "center", "baseline": "middle"},
      "encoding": {
        "x": {"field": "col", "type": "nominal",
              "scale": {"domain": ["Indice", "NDWI", "MNDWI", "SAVI", "WRI", "AWEI"], "range": [68, 1638], "paddingInner": 0, "paddingOuter": 0},
              "axis": null},
        "y": {"field": "row", "type": "nominal",
              "scale": {"domain": ["Indice", "Max", "Min", "Mean"], "range": [172, 503], "paddingInner": 0, "paddingOuter": 0},
              "axis": null},
        "text": {"field": "t"}
      }
    },
    {
      "data": {"name": "table"},
      "transform": [{"filter": "datum.row != 'Indice' && datum.col != 'Indice'"}],
      "mark": {"type": "text", "font": "Liberation Sans", "fontSize": 60, "color": "black",
               "align": "right", "baseline": "middle", "xOffset": 116},
      "encoding": {
        "x": {"field": "col", "type": "nominal",
              "scale": {"domain": ["Indice", "NDWI", "MNDWI", "SAVI", "WRI", "AWEI"], "range": [68, 1638], "paddingInner": 0, "paddingOuter": 0},
              "axis": null},
        "y": {"field": "row", "type": "nominal",
              "scale": {"domain": ["Indice", "Max", "Min", "Mean"], "range": [172, 503], "paddingInner": 0, "paddingOuter": 0},
              "axis": null},
        "text": {"field": "t"}
      }
    }
  ],
  "resolve": {
    "scale": {"x": "independent", "y": "independent"},
    "axis": {"x": "independent", "y": "independent"}
  }
}
